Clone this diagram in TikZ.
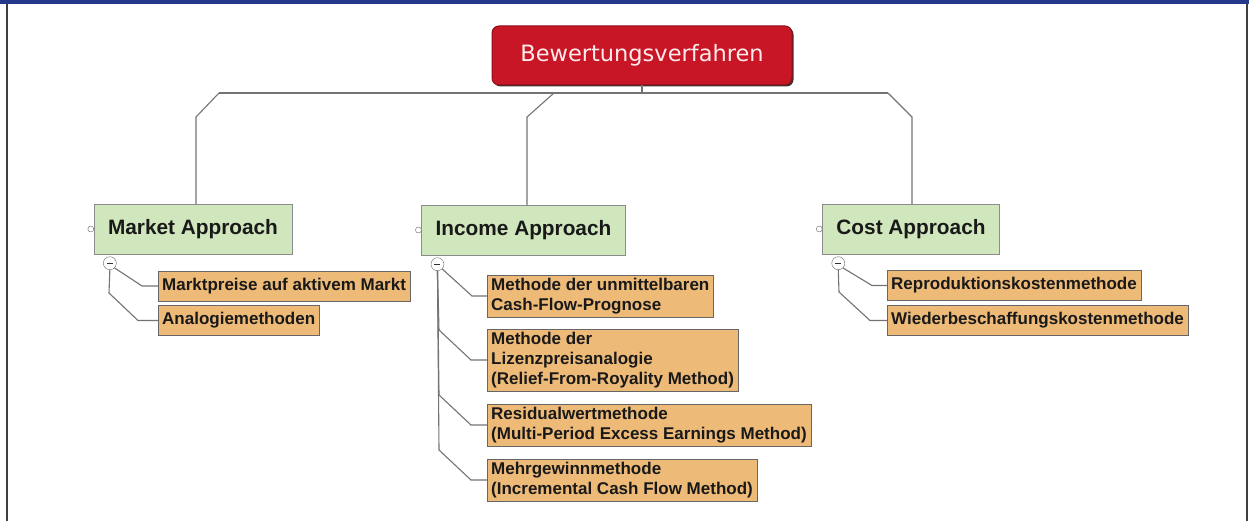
\documentclass[tikz,border=0pt]{standalone}
\usepackage{fontspec}
\setmainfont{Liberation Sans}
\newfontfamily\rootfont{DejaVu Sans}
\usetikzlibrary{positioning,shadows}
\definecolor{bwred}{RGB}{200,22,38}
\definecolor{bwgreen}{RGB}{208,230,188}
\definecolor{bworange}{RGB}{238,186,120}
\definecolor{bwline}{RGB}{115,115,115}
\definecolor{bwframe}{RGB}{36,56,140}

\begin{document}
\begin{tikzpicture}[x=1pt,y=-1pt,
    rootbox/.style={draw=bwred!70!black,line width=1pt,rounded corners=7pt,fill=bwred,
      text=white!92!red,font=\rootfont\fontsize{22.5}{26}\selectfont,minimum width=300pt,minimum height=59pt,
      drop shadow={shadow xshift=1.5pt,shadow yshift=-1.5pt,fill=black!80,opacity=1}},
    approach/.style={draw=black!45,fill=bwgreen,font=\fontsize{20.8}{24}\selectfont\bfseries,text=black!90,
      minimum height=50pt,inner xsep=14pt},
    method/.style={draw=black!60,fill=bworange,font=\fontsize{17}{20}\selectfont\bfseries,text=black!90,
      align=left,inner xsep=4pt,minimum height=30pt,anchor=west},
    knob/.style={circle,draw=black!60,fill=white,inner sep=0pt,minimum size=#1},
    minus/.style={knob=13pt,path picture={\draw[black!80,line width=1.4pt]
      ([xshift=3.5pt]path picture bounding box.west) -- ([xshift=-3.5pt]path picture bounding box.east);}},
    tree/.style={draw=bwline,line width=1.1pt}]
  \useasboundingbox (0,0) rectangle (1249,521);
  % frame of the slide
  \fill[bwframe] (0,0) rectangle (1249,4);
  \draw[black!75,line width=2pt] (6.5,4) -- (6.5,521);
  \draw[black!75,line width=2pt] (1246.5,4) -- (1246.5,521);

  \node[rootbox] (root) at (642,55.5) {Bewertungsverfahren};
  \node[approach] (market) at (193,229) {Market Approach};
  \node[approach] (income) at (523.5,230) {Income Approach};
  \node[approach] (cost) at (911,229) {Cost Approach};
  \foreach \t in {market,income,cost} {
    \node[knob=6pt] at ([xshift=-3pt]\t.west) {};
    \node[minus] (\t-m) at ([xshift=16pt,yshift=-9pt]\t.south west) {};
  }

  \node[method] (mk1) at (158,286) {Marktpreise auf aktivem Markt};
  \node[method] (mk2) at (158,320.5) {Analogiemethoden};
  \node[method] (in1) at (487,296) {Methode der unmittelbaren\\Cash-Flow-Prognose};
  \node[method] (in2) at (487,360) {Methode der\\Lizenzpreisanalogie\\(Relief-From-Royality Method)};
  \node[method] (in3) at (487,425) {Residualwertmethode\\(Multi-Period Excess Earnings Method)};
  \node[method] (in4) at (487,480) {Mehrgewinnmethode\\(Incremental Cash Flow Method)};
  \node[method] (co1) at (887,285.5) {Reproduktionskostenmethode};
  \node[method] (co2) at (887,320.5) {Wiederbeschaffungskostenmethode};

  % root to the three approaches
  \coordinate (hub) at (642,93);
  \draw[tree] (root.south) -- (hub);
  \draw[tree] (219,93) -- (888,93);
  \foreach \t/\a/\b in {market/219/196,income/554/527,cost/888/912}
    \draw[tree] (\a,93) -- (\b,117) -- (\b,117 |- \t.north);

  % approaches to their methods
  \draw[tree] (market-m.south east) -- (142,286) -- (mk1.west);
  \draw[tree] (market-m.south) -- (109,293) -- (138,320.5) -- (mk2.west);
  \draw[tree] (income-m.south east) -- (472,296) -- (in1.west);
  \foreach \c/\y in {in2/360,in3/425,in4/480}
    \draw[tree] (income-m.south) -- (439,{\y-30}) -- (471,\y) -- (\c.west);
  \draw[tree] (cost-m.south east) -- (872,285.5) -- (co1.west);
  \draw[tree] (cost-m.south) -- (839,292) -- (870,320.5) -- (co2.west);
\end{tikzpicture}
\end{document}
